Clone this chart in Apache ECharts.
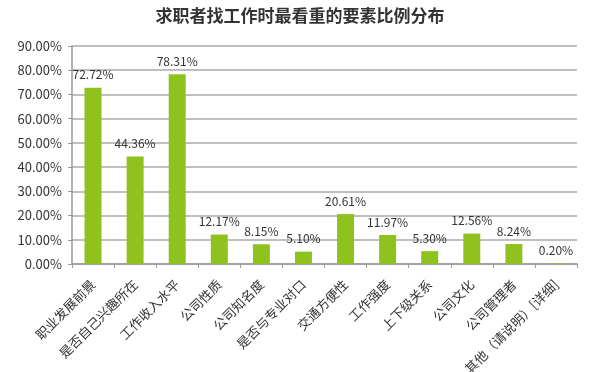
<!DOCTYPE html>
<html><head><meta charset="utf-8">
<script src="https://cdn.jsdelivr.net/npm/echarts@6/dist/echarts.min.js"></script>
<style>html,body{margin:0;padding:0;background:#fff}#c{width:600px;height:372px}</style>
</head><body><div id="c"></div>
<script>
const categories = ['职业发展前景','是否自己兴趣所在','工作收入水平','公司性质','公司知名度','是否与专业对口','交通方便性','工作强度','上下级关系','公司文化','公司管理者','其他（请说明）[详细]'];
const values = [72.72, 44.36, 78.31, 12.17, 8.15, 5.10, 20.61, 11.97, 5.30, 12.56, 8.24, 0.20];
const title = '求职者找工作时最看重的要素比例分布';
const chart = echarts.init(document.getElementById('c'));
const font = '"Microsoft YaHei","Noto Sans CJK SC",sans-serif';
chart.setOption({
  animation: false,
  title: { text: title, left: 'center', top: 2, textStyle: { fontFamily: font, fontSize: 17, fontWeight: 'bold', color: '#333' } },
  grid: { left: 72, right: 23, top: 46, bottom: 108, containLabel: false, outerBoundsMode: 'none' },
  xAxis: {
    type: 'category', data: categories,
    axisLine: { lineStyle: { color: '#999', width: 1.5 } },
    axisTick: { show: true, alignWithLabel: false, lineStyle: { color: '#999' }, length: 4 },
    axisLabel: { rotate: 45, interval: 0, fontFamily: font, fontSize: 13, color: '#333', margin: 18 }
  },
  yAxis: {
    type: 'value', min: 0, max: 90, interval: 10,
    axisLine: { show: true, lineStyle: { color: '#999', width: 1.5 } },
    axisTick: { show: true, length: 4, lineStyle: { color: '#999' } },
    splitLine: { lineStyle: { color: '#aaa', width: 1.5 } },
    axisLabel: { formatter: v => v.toFixed(2) + '%', fontFamily: font, fontSize: 13, color: '#333', margin: 10 }
  },
  series: [{
    type: 'bar', data: values, barWidth: 17,
    itemStyle: { color: '#8fc21f' },
    label: { show: true, position: 'top', distance: 7, formatter: p => p.value.toFixed(2) + '%', fontFamily: font, fontSize: 12, color: '#333' }
  }]
});
</script></body></html>
